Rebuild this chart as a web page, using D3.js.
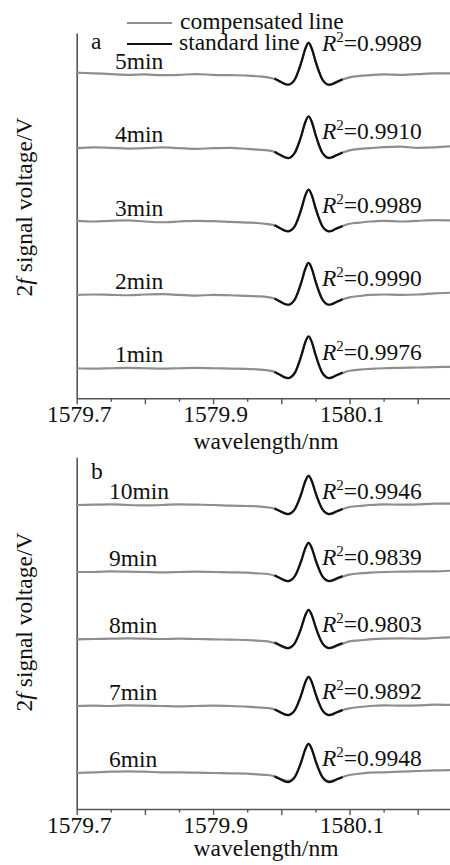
<!DOCTYPE html>
<html>
<head>
<meta charset="utf-8">
<script src="https://cdn.jsdelivr.net/npm/d3@7"></script>
<style>
  body { margin: 0; background: #fff; }
  svg text { font-family: "Liberation Serif", "Tinos", "Times New Roman", "Times", "DejaVu Serif", "Noto Serif", serif; fill: #111; }
</style>
</head>
<body>
<svg id="chart" width="450" height="865"></svg>
<script>
// ---- data ----
var majorTicks = [1579.7, 1579.8, 1579.9, 1580.0, 1580.1, 1580.2];
var minorTicks = [1579.75, 1579.85, 1579.95, 1580.05, 1580.15, 1580.25];
var labelTicks = [1579.7, 1579.9, 1580.1];

// wavelength grid (nm) of the compensated lines
var compWave = [1579.70, 1579.725, 1579.75, 1579.775, 1579.80, 1579.825, 1579.85, 1579.875, 1579.90, 1579.925, 1579.95,
  1579.965, 1579.98, 1579.99, 1580.00, 1580.01, 1580.02, 1580.03, 1580.035, 1580.04, 1580.045, 1580.05, 1580.06, 1580.07,
  1580.08, 1580.09, 1580.10, 1580.115, 1580.13, 1580.15, 1580.175, 1580.20, 1580.225, 1580.25];

// standard line (same reference for every trace), only around the absorption peak
var stdWave = [1579.99, 1579.995, 1580.00, 1580.005, 1580.01, 1580.015, 1580.02, 1580.025, 1580.03, 1580.035, 1580.04,
  1580.045, 1580.05, 1580.055, 1580.06, 1580.065, 1580.07, 1580.075, 1580.08, 1580.085, 1580.09];
var stdVal = [-0.05, -0.075, -0.10, -0.125, -0.135, -0.115, -0.06, 0.05, 0.19, 0.35, 0.435,
  0.35, 0.19, 0.05, -0.06, -0.115, -0.135, -0.125, -0.10, -0.08, -0.06];

// panel a
var minutesA = ["5min", "4min", "3min", "2min", "1min"];
var r2A = ["0.9989", "0.9910", "0.9989", "0.9990", "0.9976"];
var levelsA = [4, 3, 2, 1, 0];
var compA = [
  [0.03, 0.02, 0.01, 0.0, 0.005, -0.005, 0.0, 0.01, 0.0, -0.005, -0.01, -0.02, -0.035, -0.055, -0.10, -0.135, -0.06, 0.19, 0.35, 0.44, 0.35, 0.19, -0.06, -0.14, -0.11, -0.065, -0.035, -0.015, -0.005, 0.005, 0.0, 0.01, 0.02, 0.02],
  [0.0, 0.01, 0.005, -0.005, 0.0, 0.01, 0.0, -0.01, 0.0, 0.005, -0.01, -0.02, -0.03, -0.05, -0.10, -0.135, -0.06, 0.19, 0.35, 0.43, 0.35, 0.19, -0.06, -0.13, -0.10, -0.06, -0.03, -0.01, 0.0, 0.015, 0.02, 0.005, 0.01, 0.025],
  [0.01, 0.0, 0.01, 0.015, 0.0, -0.01, 0.0, 0.01, 0.005, -0.005, -0.015, -0.02, -0.035, -0.05, -0.10, -0.13, -0.06, 0.19, 0.35, 0.435, 0.35, 0.19, -0.06, -0.135, -0.10, -0.06, -0.03, -0.015, 0.0, 0.01, 0.0, 0.01, 0.02, 0.015],
  [0.0, 0.005, 0.0, -0.005, 0.005, 0.01, 0.0, -0.01, 0.0, -0.005, -0.015, -0.02, -0.03, -0.05, -0.10, -0.135, -0.06, 0.19, 0.35, 0.435, 0.35, 0.19, -0.06, -0.135, -0.10, -0.06, -0.035, -0.015, 0.0, 0.005, 0.0, 0.005, 0.02, 0.03],
  [0.0, -0.005, 0.0, 0.005, 0.0, -0.005, 0.0, 0.005, 0.0, -0.005, -0.01, -0.015, -0.03, -0.05, -0.10, -0.135, -0.06, 0.19, 0.35, 0.435, 0.35, 0.19, -0.06, -0.135, -0.10, -0.065, -0.035, -0.02, -0.01, 0.0, 0.005, 0.01, 0.015, 0.02]
];

// panel b
var minutesB = ["10min", "9min", "8min", "7min", "6min"];
var r2B = ["0.9946", "0.9839", "0.9803", "0.9892", "0.9948"];
var levelsB = [4, 3, 2, 1, 0];
var compB = [
  [0.0, 0.005, 0.01, 0.0, -0.005, 0.0, 0.01, 0.005, 0.0, -0.01, -0.015, -0.02, -0.035, -0.055, -0.10, -0.135, -0.06, 0.19, 0.35, 0.435, 0.35, 0.19, -0.06, -0.135, -0.10, -0.06, -0.03, -0.015, 0.0, 0.01, 0.005, 0.01, 0.02, 0.02],
  [0.0, 0.0, 0.01, 0.005, 0.0, -0.005, 0.0, 0.005, 0.0, -0.005, -0.01, -0.02, -0.03, -0.055, -0.10, -0.14, -0.06, 0.19, 0.35, 0.435, 0.35, 0.19, -0.06, -0.135, -0.11, -0.07, -0.04, -0.02, -0.01, 0.0, 0.005, 0.01, 0.01, 0.02],
  [-0.005, 0.0, 0.005, 0.01, 0.005, 0.0, 0.005, 0.0, -0.005, -0.01, -0.015, -0.025, -0.035, -0.06, -0.11, -0.14, -0.06, 0.19, 0.35, 0.43, 0.35, 0.19, -0.06, -0.135, -0.11, -0.07, -0.035, -0.02, -0.005, 0.005, 0.01, 0.005, 0.015, 0.025],
  [0.0, 0.005, 0.0, 0.01, 0.005, 0.0, -0.005, 0.0, 0.005, 0.0, -0.01, -0.02, -0.03, -0.05, -0.10, -0.135, -0.06, 0.19, 0.35, 0.43, 0.35, 0.19, -0.06, -0.135, -0.10, -0.06, -0.035, -0.015, 0.0, 0.01, 0.005, 0.01, 0.02, 0.015],
  [0.0, 0.01, 0.02, 0.025, 0.02, 0.01, 0.01, 0.005, 0.0, -0.005, -0.01, -0.02, -0.03, -0.05, -0.09, -0.115, -0.05, 0.19, 0.35, 0.435, 0.35, 0.19, -0.05, -0.12, -0.10, -0.06, -0.03, -0.01, 0.005, 0.01, 0.02, 0.03, 0.04, 0.045]
];

// ---- layout ----
var svg = d3.select("#chart");
var left = 76.7;
var x = d3.scaleLinear().domain([1579.7, 1580.25]).range([left, left + 0.55 * 682]);
var serif = "'Liberation Serif', 'Tinos', 'Times New Roman', 'DejaVu Serif', serif";

var panels = [
  { tag: "a", top: 33, bottom: 398.3, yDomain: [-0.41, 4.57], minutes: minutesA, r2: r2A, levels: levelsA, comp: compA,
    labelX: 115, labelLift: 6, r2Lift: [24, 9, 9, 9, 8], tagY: 49, ylabelY: 207, titleY: 449, legend: true },
  { tag: "b", top: 457.3, bottom: 809, yDomain: [-0.537, 4.712], minutes: minutesB, r2: r2B, levels: levelsB, comp: compB,
    labelX: 109, labelLift: 6, r2Lift: [6, 7, 7, 7, 7], tagY: 479, ylabelY: 622, titleY: 856, legend: false }
];

var fs = 23.5;

panels.forEach(function (p) {
  var y = d3.scaleLinear().domain(p.yDomain).range([p.bottom, p.top]);
  var g = svg.append("g").style("font-family", serif);

  // axes
  var yAxis = g.append("g").attr("transform", "translate(" + left + ",0)")
    .call(d3.axisLeft(y).tickValues([]).tickSizeOuter(0));
  yAxis.select(".domain").attr("stroke", "#555").attr("stroke-width", 1.6);

  var xMinor = g.append("g").attr("transform", "translate(0," + p.bottom + ")")
    .call(d3.axisBottom(x).tickValues(minorTicks).tickSize(3.5).tickFormat(""));
  xMinor.select(".domain").remove();
  xMinor.selectAll("line").attr("stroke", "#555").attr("stroke-width", 1.4);

  var xMajor = g.append("g").attr("transform", "translate(0," + p.bottom + ")")
    .call(d3.axisBottom(x).tickValues(majorTicks).tickSize(6).tickSizeOuter(0)
      .tickFormat(function (d) { return labelTicks.some(function (l) { return Math.abs(l - d) < 1e-6; }) ? d3.format(".1f")(d) : ""; }));
  xMajor.attr("font-family", null).attr("font-size", null);
  xMajor.select(".domain").attr("stroke", "#555").attr("stroke-width", 1.6);
  xMajor.selectAll("line").attr("stroke", "#555").attr("stroke-width", 1.4);
  xMajor.selectAll("text").attr("y", 24).attr("dy", 0).attr("dx", 2)
    .style("font-size", fs + "px").style("font-family", serif).attr("fill", "#111");

  g.append("text").attr("x", 266).attr("y", p.titleY)
    .attr("text-anchor", "middle").style("font-size", fs + "px").text("wavelength/nm");

  var yl = g.append("text").attr("transform", "translate(32," + p.ylabelY + ") rotate(-90)")
    .attr("text-anchor", "middle").style("font-size", fs + "px");
  yl.append("tspan").text("2");
  yl.append("tspan").style("font-style", "italic").text("f");
  yl.append("tspan").text(" signal voltage/V");

  g.append("text").attr("x", 91).attr("y", p.tagY).style("font-size", fs + "px").text(p.tag);

  var line = d3.line().curve(d3.curveMonotoneX);

  p.comp.forEach(function (vals, i) {
    var lv = p.levels[i];
    // compensated line (grey)
    g.append("path")
      .attr("d", line(compWave.map(function (w, k) { return [x(w), y(lv + vals[k])]; })))
      .attr("fill", "none").attr("stroke", "#8e8e8e").attr("stroke-width", 2.2);
    // standard line (black)
    g.append("path")
      .attr("d", line(stdWave.map(function (w, k) { return [x(w), y(lv + stdVal[k])]; })))
      .attr("fill", "none").attr("stroke", "#111").attr("stroke-width", 2.2);

    g.append("text").attr("x", p.labelX).attr("y", y(lv) - p.labelLift)
      .style("font-size", fs + "px").text(p.minutes[i]);

    var t = g.append("text").attr("x", 322).attr("y", y(lv) - p.r2Lift[i]).style("font-size", fs + "px");
    t.append("tspan").style("font-style", "italic").text("R");
    t.append("tspan").attr("dy", -9).style("font-size", "15px").text("2");
    t.append("tspan").attr("dy", 9).text("=" + p.r2[i]);
  });

  if (p.legend) {
    g.append("line").attr("x1", 127).attr("x2", 172).attr("y1", 23).attr("y2", 23)
      .attr("stroke", "#8e8e8e").attr("stroke-width", 2);
    g.append("text").attr("x", 180).attr("y", 29).style("font-size", fs + "px").text("compensated line");
    g.append("line").attr("x1", 127).attr("x2", 172).attr("y1", 44).attr("y2", 44)
      .attr("stroke", "#111").attr("stroke-width", 2.2);
    g.append("text").attr("x", 179).attr("y", 50).style("font-size", fs + "px").text("standard line");
  }
});
</script>
</body>
</html>
